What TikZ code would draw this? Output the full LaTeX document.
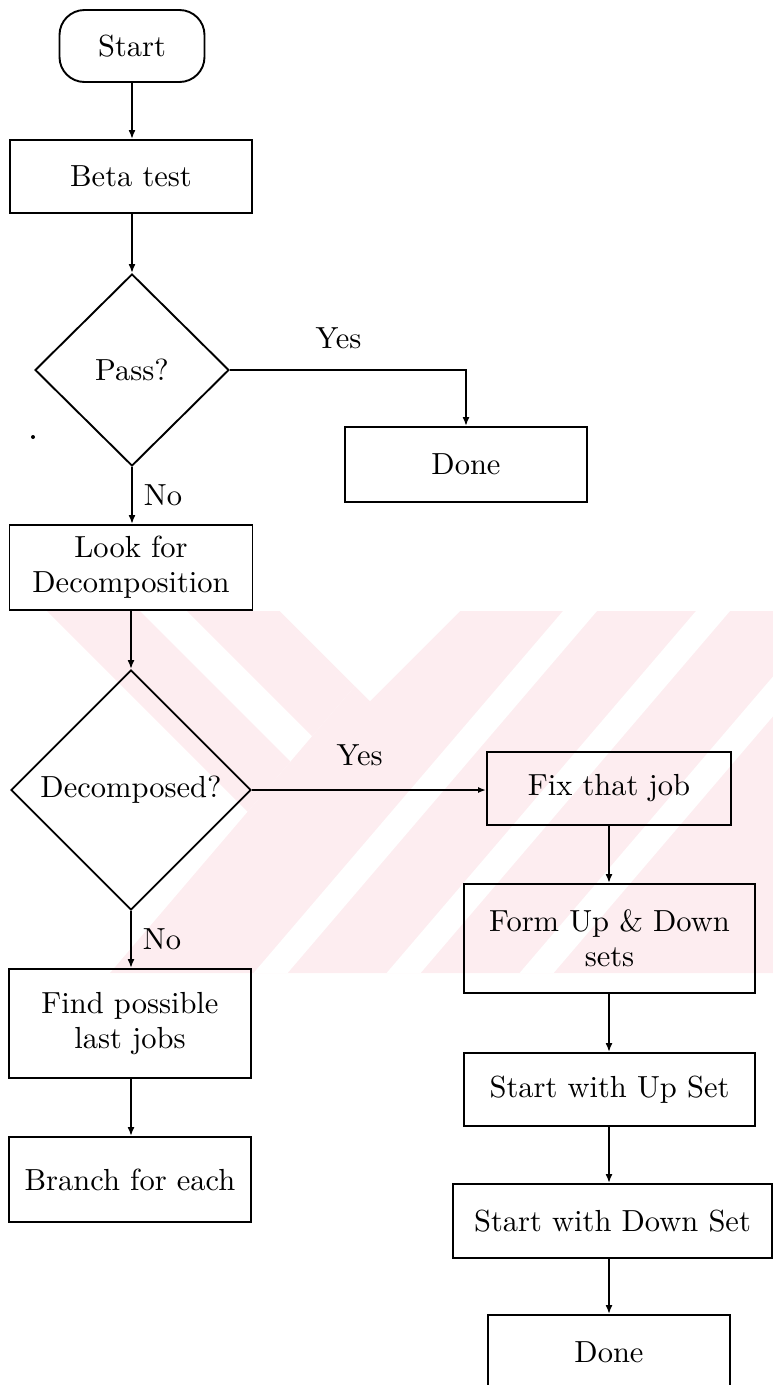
\documentclass[tikz,border=0pt]{standalone}
\usepackage{fontspec}
\setmainfont{lmroman10-regular.otf}
\usetikzlibrary{shapes.geometric,arrows.meta}
\definecolor{wm}{RGB}{253,237,240}
\tikzset{
  base/.style={draw, line width=1.9pt, inner sep=0pt, align=center, font=\fontsize{30.5}{35}\selectfont},
  box/.style={base, rectangle},
  term/.style={base, rectangle, rounded corners=25pt},
  decision/.style={base, diamond},
  flow/.style={line width=1.9pt, -{Latex[length=9pt,width=7pt]}},
  openflow/.style={line width=1.9pt, -{Latex[open,length=8pt,width=6pt]}},
  lbl/.style={inner sep=0pt, font=\fontsize{30.5}{35}\selectfont},
}
\begin{document}
\begin{tikzpicture}[x=1pt,y=-1pt]
\useasboundingbox (0,0) rectangle (773,1385);
% faint watermark behind the chart
\begin{scope}
  \clip (0,611) rectangle (773,973);
  \begin{scope}
    \clip (0,611) -- (419,611) -- (110,973) -- (0,973) -- cycle;
    \fill[wm] (47,611) -- (140,611) -- (502,973) -- (409,973) -- cycle;
    \fill[wm] (187,611) -- (280,611) -- (642,973) -- (549,973) -- cycle;
  \end{scope}
  \fill[wm] (419,611) -- (773,611) -- (773,973) -- (110,973) -- cycle;
  \foreach \a in {563,696,829}
    \fill[white] (\a,611) -- (\a+34,611) -- (\a+34-309.4,973) -- (\a-309.4,973) -- cycle;
  \fill[white] (280,611) -- (460,611) -- (370,701) -- cycle;
\end{scope}
\fill (33,437) circle (2pt);

% nodes
\node[term, minimum width=145pt, minimum height=72pt] (start) at (132,46) {Start};
\node[box, minimum width=242pt, minimum height=73pt] (beta) at (131,176.5) {Beta test};
\node[decision, minimum width=194pt, minimum height=192pt] (pass) at (132,370) {Pass?};
\node[box, minimum width=242pt, minimum height=75pt] (done1) at (466,464.5) {Done};
\node[box, minimum width=243pt, minimum height=85pt] (look) at (131,567.5) {Look for\\Decomposition};
\node[decision, minimum width=240pt, minimum height=240pt] (dec) at (131,790) {Decomposed?};
\node[box, minimum width=244pt, minimum height=73pt] (fix) at (609,788.5) {Fix that job};
\node[box, minimum width=291pt, minimum height=109pt] (form) at (609.5,938.5) {Form Up \& Down\\sets};
\node[box, minimum width=291pt, minimum height=73pt] (upset) at (609.5,1089.5) {Start with Up Set};
\node[box, minimum width=319pt, minimum height=74pt] (downset) at (612.5,1221) {Start with Down Set};
\node[box, minimum width=242pt, minimum height=74pt] (done2) at (609,1352) {Done};
\node[box, minimum width=242pt, minimum height=109pt] (find) at (130,1023.5) {Find possible\\last jobs};
\node[box, minimum width=242pt, minimum height=85pt] (branch) at (130,1179.5) {Branch for each};

% connectors
\draw[flow] (start.south) -- (start.south |- beta.north);
\draw[flow] (beta.south -| pass.north) -- (pass.north);
\draw[flow] (pass.east) -| node[lbl, pos=0.23, above=20pt] {Yes} (done1.north);
\draw[flow] (pass.south) -- node[lbl, right=11pt] {No} (pass.south |- look.north);
\draw[flow] (look.south -| dec.north) -- (dec.north);
\draw[openflow] (dec.east) -- node[lbl, pos=0.46, above=23pt] {Yes} (dec.east -| fix.west);
\draw[flow] (dec.south) -- node[lbl, right=11pt] {No} (dec.south |- find.north);
\draw[flow] (find.south -| dec.south) -- (dec.south |- branch.north);
\draw[flow] (fix.south) -- (fix.south |- form.north);
\draw[flow] (form.south -| fix.south) -- (fix.south |- upset.north);
\draw[flow] (upset.south -| fix.south) -- (fix.south |- downset.north);
\draw[flow] (downset.south -| fix.south) -- (fix.south |- done2.north);
\end{tikzpicture}
\end{document}
